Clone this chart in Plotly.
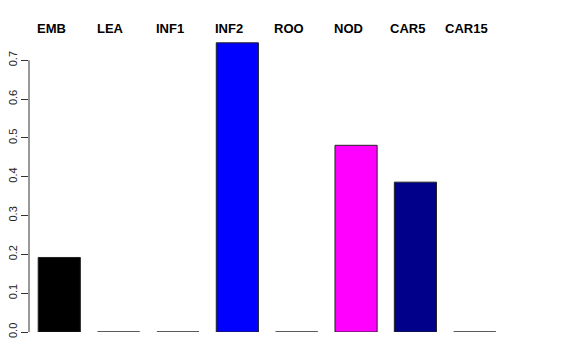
import plotly.graph_objects as go

categories = ["EMB", "LEA", "INF1", "INF2", "ROO", "NOD", "CAR5", "CAR15"]
values = [0.192, 0.0, 0.0, 0.745, 0.0, 0.481, 0.386, 0.0]
bar_colors = ["#000000", "#000000", "#000000", "#0000FF", "#000000", "#FF00FF", "#00008B", "#000000"]
y_ticks = [0.0, 0.1, 0.2, 0.3, 0.4, 0.5, 0.6, 0.7]
y_tick_labels = ["0.0", "0.1", "0.2", "0.3", "0.4", "0.5", "0.6", "0.7"]

fig = go.Figure()
fig.add_trace(go.Bar(
    x=list(range(len(categories))),
    y=values,
    marker=dict(color=bar_colors, line=dict(color="#222222", width=1)),
    hoverinfo="skip",
))

for i, c in enumerate(categories):
    fig.add_annotation(
        x=i, y=1, xref="x", yref="paper", text="<b>%s</b>" % c,
        showarrow=False, xshift=-8, yshift=-1, yanchor="bottom",
        font=dict(family="Liberation Sans, Arial, sans-serif", size=13, color="#000000"),
    )

# axis line spanning only the tick range (R style)
fig.add_shape(type="line", xref="paper", yref="y", x0=0, x1=0,
              y0=y_ticks[0], y1=y_ticks[-1], line=dict(color="#333333", width=1))

fig.update_layout(
    width=576, height=360,
    margin=dict(l=21, r=38, t=29, b=36, pad=0, autoexpand=False),
    paper_bgcolor="white", plot_bgcolor="white",
    bargap=0.29,
    showlegend=False,
    font=dict(family="Liberation Sans, Arial, sans-serif", color="#222222"),
    xaxis=dict(range=[-0.51, 8.2], showgrid=False, zeroline=False, showline=False,
               showticklabels=False, ticks="", automargin=False),
    yaxis=dict(range=[0, 0.76], tickvals=y_ticks, ticktext=y_tick_labels,
               tickangle=-90, ticks="outside", ticklen=7, tickcolor="#333333",
               tickfont=dict(size=11, color="#222222"), automargin=False,
               showgrid=False, zeroline=False, showline=False),
)

fig.write_html("out.html")
